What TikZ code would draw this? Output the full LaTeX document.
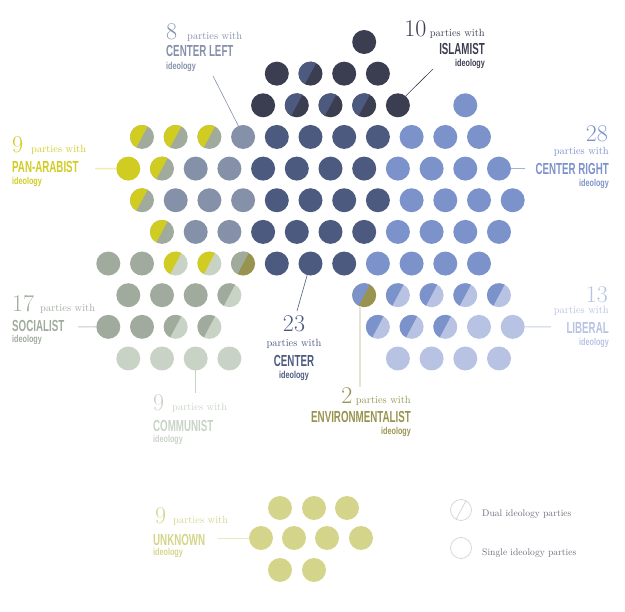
\documentclass[tikz,border=0pt]{standalone}
\usepackage{fontspec}
\newfontfamily\catfont[FakeStretch=0.61]{Liberation Sans}
\newfontfamily\ideofont[FakeStretch=0.72]{Liberation Sans}
\definecolor{isl}{HTML}{3B3D51}
\definecolor{cen}{HTML}{4D5A80}
\definecolor{cl}{HTML}{8590A9}
\definecolor{cr}{HTML}{7B93CA}
\definecolor{lib}{HTML}{B8C3E3}
\definecolor{soc}{HTML}{A0AB9E}
\definecolor{com}{HTML}{C8D3C6}
\definecolor{pa}{HTML}{D0CC22}
\definecolor{env}{HTML}{999350}
\definecolor{unk}{HTML}{D4D58A}
\definecolor{legc}{HTML}{6B6E7A}
\definecolor{legline}{HTML}{D3D3D8}
\tikzset{
  pdot/.style={circle,minimum size=24pt,inner sep=0pt,outer sep=0pt},
  num/.style={inner sep=0pt,font=\fontsize{24}{24}\selectfont},
  pw/.style={inner sep=0pt,font=\fontsize{10.5}{12}\selectfont},
  cat/.style={inner sep=0pt,font=\catfont\bfseries\fontsize{16}{16}\selectfont},
  ideo/.style={inner sep=0pt,font=\ideofont\bfseries\fontsize{10}{10}\selectfont},
  leg/.style={inner sep=0pt,text=legc,font=\fontsize{9.6}{11}\selectfont},
  lead/.style={line width=0.8pt}
}
\newcommand\sdot[3]{%
  \pgfmathsetmacro\px{ifthenelse(mod(#1,2)==1,108.3,128.3)+33.7*#2}%
  \pgfmathsetmacro\py{42+31.65*#1}%
  \node[pdot,fill=#3] (d#1-#2) at (\px,\py) {};}
\newcommand\hdot[4]{%
  \pgfmathsetmacro\px{ifthenelse(mod(#1,2)==1,108.3,128.3)+33.7*#2}%
  \pgfmathsetmacro\py{42+31.65*#1}%
  \node[pdot,fill=#4] (d#1-#2) at (\px,\py) {};
  \fill[#3] (d#1-#2.center) ++(118:12) arc[start angle=118,end angle=298,radius=12] -- cycle;}
\begin{document}
\begin{tikzpicture}[x=1pt,y=-1pt]
\useasboundingbox (0,0) rectangle (625,612);
% row 0
\sdot{0}{7}{isl}
% row 1
\sdot{1}{5}{isl}\hdot{1}{6}{cen}{isl}\sdot{1}{7}{isl}\sdot{1}{8}{isl}
% row 2
\sdot{2}{4}{isl}\hdot{2}{5}{cen}{isl}\hdot{2}{6}{cen}{isl}\hdot{2}{7}{cen}{isl}\sdot{2}{8}{isl}\sdot{2}{10}{cr}
% row 3
\hdot{3}{1}{pa}{soc}\hdot{3}{2}{pa}{soc}\hdot{3}{3}{pa}{soc}\sdot{3}{4}{cl}
\foreach \k in {5,...,8}{\sdot{3}{\k}{cen}}
\foreach \k in {9,10,11}{\sdot{3}{\k}{cr}}
% row 4
\sdot{4}{0}{pa}\hdot{4}{1}{pa}{soc}\sdot{4}{2}{cl}\sdot{4}{3}{cl}
\foreach \k in {4,...,7}{\sdot{4}{\k}{cen}}
\foreach \k in {8,...,11}{\sdot{4}{\k}{cr}}
% row 5
\hdot{5}{1}{pa}{soc}\sdot{5}{2}{cl}\sdot{5}{3}{cl}\sdot{5}{4}{cl}
\foreach \k in {5,...,8}{\sdot{5}{\k}{cen}}
\foreach \k in {9,...,12}{\sdot{5}{\k}{cr}}
% row 6
\hdot{6}{1}{pa}{soc}\sdot{6}{2}{cl}\sdot{6}{3}{cl}
\foreach \k in {4,...,7}{\sdot{6}{\k}{cen}}
\foreach \k in {8,...,11}{\sdot{6}{\k}{cr}}
% row 7
\sdot{7}{0}{soc}\sdot{7}{1}{soc}\hdot{7}{2}{pa}{com}\hdot{7}{3}{pa}{com}\hdot{7}{4}{soc}{env}
\foreach \k in {5,6,7}{\sdot{7}{\k}{cen}}
\foreach \k in {8,...,11}{\sdot{7}{\k}{cr}}
% row 8
\sdot{8}{0}{soc}\sdot{8}{1}{soc}\sdot{8}{2}{soc}\hdot{8}{3}{soc}{com}
\hdot{8}{7}{cr}{env}
\foreach \k in {8,...,11}{\hdot{8}{\k}{cr}{lib}}
% row 9
\sdot{9}{0}{soc}\sdot{9}{1}{soc}\hdot{9}{2}{soc}{com}\hdot{9}{3}{soc}{com}
\foreach \k in {8,9,10}{\hdot{9}{\k}{cr}{lib}}
\sdot{9}{11}{lib}\sdot{9}{12}{lib}
% row 10
\foreach \k in {0,...,3}{\sdot{10}{\k}{com}}
\foreach \k in {8,...,11}{\sdot{10}{\k}{lib}}
% unknown
\node[pdot,fill=unk] (u1) at (280,508) {};
\node[pdot,fill=unk] (u2) at (314,508) {};
\node[pdot,fill=unk] (u3) at (347,508) {};
\node[pdot,fill=unk] (u4) at (261,538) {};
\node[pdot,fill=unk] (u5) at (294,538) {};
\node[pdot,fill=unk] (u6) at (327,538) {};
\node[pdot,fill=unk] (u7) at (361,538) {};
\node[pdot,fill=unk] (u8) at (280,570) {};
\node[pdot,fill=unk] (u9) at (314,570) {};

% ---- labels ----
% Islamist
\node[pw,text=isl,anchor=base east] (islP) at (485,37) {parties with};
\node[num,text=isl,anchor=base east] (islN) at ([xshift=-3pt]islP.base west) {10};
\node[cat,text=isl,anchor=base east] (islC) at (485,55) {ISLAMIST};
\node[ideo,text=isl,anchor=base east] (islI) at (485,67) {ideology};
\coordinate (islS) at (433,69);
\draw[lead,isl,line width=0.6pt] (islS) -- (d2-8.50);
% Center left
\node[num,text=cl,anchor=base west] (clN) at (166,39.5) {8};
\node[pw,text=cl,anchor=base west] (clP) at (187,39.5) {parties with};
\node[cat,text=cl,anchor=base west] (clC) at (166,57) {CENTER LEFT};
\node[ideo,text=cl,anchor=base west] (clI) at (166,70) {ideology};
\coordinate (clS) at (213,76);
\draw[lead,cl,line width=0.6pt] (clS) -- (d3-4.113);
% Pan-Arabist
\node[num,text=pa,anchor=base west] (paN) at (12,153) {9};
\node[pw,text=pa,anchor=base west] (paP) at (31,153) {parties with};
\node[cat,text=pa,anchor=base west] (paC) at (12,173) {PAN-ARABIST};
\node[ideo,text=pa,anchor=base west] (paI) at (12,185) {ideology};
\coordinate (paS) at (95,168.6);
\draw[lead,pa!35,line width=1.4pt] (paS) -- (d4-0.west);
% Center right
\node[num,text=cr,anchor=base east] (crN) at (608,142) {28};
\node[pw,text=cr,anchor=base east] (crP) at (609,155) {parties with};
\node[cat,text=cr,anchor=base east] (crC) at (609,175) {CENTER RIGHT};
\node[ideo,text=cr,anchor=base east] (crI) at (609,187) {ideology};
\coordinate (crS) at (525,168.6);
\draw[lead,cr!70] (d4-11.east) -- (crS);
% Liberal
\node[num,text=lib,anchor=base east] (libN) at (608,303) {13};
\node[pw,text=lib,anchor=base east] (libP) at (609,314) {parties with};
\node[cat,text=lib,anchor=base east] (libC) at (609,334) {LIBERAL};
\node[ideo,text=lib,anchor=base east] (libI) at (609,346) {ideology};
\coordinate (libS) at (551,326.9);
\draw[lead,lib!80] (d9-12.east) -- (libS);
% Socialist
\node[num,text=soc,anchor=base west] (socN) at (12,312) {17};
\node[pw,text=soc,anchor=base west] (socP) at (40,312) {parties with};
\node[cat,text=soc,anchor=base west] (socC) at (12,332) {SOCIALIST};
\node[ideo,text=soc,anchor=base west] (socI) at (12,343) {ideology};
\coordinate (socS) at (78,326.9);
\draw[lead,soc!60,line width=1.2pt] (socS) -- (d9-0.west);
% Communist
\node[num,text=com,anchor=base west] (comN) at (153,411) {9};
\node[pw,text=com,anchor=base west] (comP) at (172,411) {parties with};
\node[cat,text=com,anchor=base west] (comC) at (153,432) {COMMUNIST};
\node[ideo,text=com,anchor=base west] (comI) at (153,443) {ideology};
\coordinate (comS) at (195.7,393);
\draw[lead,com,line width=1.2pt] (d10-2.south) -- (comS);
% Center
\node[num,text=cen,anchor=base] (cenN) at (294,332) {23};
\node[pw,text=cen,anchor=base] (cenP) at (294,347) {parties with};
\node[cat,text=cen,anchor=base] (cenC) at (294,367) {CENTER};
\node[ideo,text=cen,anchor=base] (cenI) at (294,379) {ideology};
\coordinate (cenS) at (297,311);
\draw[lead,cen,line width=0.6pt] (d7-6.-106) -- (cenS);
% Environmentalist
\node[pw,text=env,anchor=base east] (envP) at (411,404) {parties with};
\node[num,text=env,anchor=base east] (envN) at ([xshift=-3pt]envP.base west) {2};
\node[cat,text=env,anchor=base east] (envC) at (411,423) {ENVIRONMENTALIST};
\node[ideo,text=env,anchor=base east] (envI) at (411,435) {ideology};
\coordinate (envS) at (360,387);
\draw[line width=2pt,env!25] (d8-7.-110) -- (d8-7.-110 |- envS);
% Unknown
\node[num,text=unk,anchor=base west] (unkN) at (155,524) {9};
\node[pw,text=unk,anchor=base west] (unkP) at (173,524) {parties with};
\node[cat,text=unk,anchor=base west] (unkC) at (153,546) {UNKNOWN};
\node[ideo,text=unk,anchor=base west] (unkI) at (153,556) {ideology};
\coordinate (unkS) at (218,538);
\draw[lead,unk!55] (unkS) -- (u4.west);
% Legend
\node[circle,draw=legline,line width=0.7pt,minimum size=21pt,inner sep=0pt] (lg1) at (461,510) {};
\draw[legline,line width=0.7pt] (lg1.62) -- (lg1.242);
\node[circle,draw=legline,line width=0.7pt,minimum size=21pt,inner sep=0pt] (lg2) at (461,548) {};
\node[leg,anchor=base west] (lgT1) at (482,516.5) {Dual ideology parties};
\node[leg,anchor=base west] (lgT2) at (482,555.5) {Single ideology parties};
\end{tikzpicture}
\end{document}
